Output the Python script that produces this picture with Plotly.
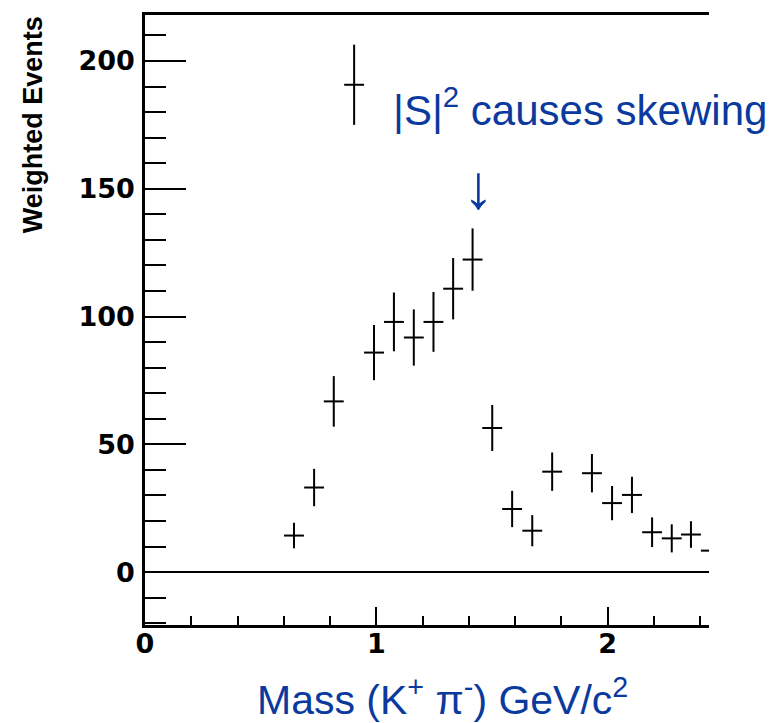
import plotly.graph_objects as go

# Data
mass = [0.644, 0.731, 0.816, 0.904, 0.990, 1.076, 1.162, 1.247, 1.332, 1.416,
        1.501, 1.587, 1.674, 1.760, 1.932, 2.019, 2.105, 2.192, 2.277, 2.360, 2.446]
events = [14.3, 33.1, 66.8, 190.7, 85.9, 97.9, 91.8, 97.9, 110.9, 122.3,
          56.4, 24.7, 16.2, 39.3, 38.7, 27.0, 30.2, 15.6, 13.2, 14.7, 8.4]
errors = [5.0, 7.3, 9.9, 15.7, 10.8, 11.5, 11.0, 11.7, 12.0, 12.2,
          9.0, 7.1, 6.1, 7.5, 7.5, 6.7, 7.1, 5.8, 5.5, 5.2, 4.0]
half_bin = 0.043

y_tickvals = [0, 50, 100, 150, 200]
x_tickvals = [0, 1, 2]

BLUE = "#0b3a9e"

fig = go.Figure()
fig.add_trace(go.Scatter(
    x=mass, y=events, mode="markers",
    marker=dict(size=1, color="black"),
    error_y=dict(type="data", array=errors, visible=True, thickness=2, width=0, color="black"),
    error_x=dict(type="constant", value=half_bin, visible=True, thickness=2, width=0, color="black"),
    showlegend=False, hoverinfo="skip",
))

tickfont = dict(family="DejaVu Sans", size=27, color="black", weight="bold")

fig.update_layout(
    width=780, height=723,
    margin=dict(l=145, r=71, t=12, b=98),
    paper_bgcolor="white", plot_bgcolor="white",
    xaxis=dict(
        range=[0, 2.438], showgrid=False, zeroline=False,
        showline=True, linecolor="black", linewidth=2.5, mirror=True,
        ticks="inside", ticklen=18, tickwidth=2, tickcolor="black",
        tickvals=x_tickvals, ticktext=[str(v) for v in x_tickvals],
        tickfont=tickfont, ticklabelstandoff=-7,
        minor=dict(dtick=0.2, ticks="inside", ticklen=9, tickwidth=2, tickcolor="black", showgrid=False),
    ),
    yaxis=dict(
        range=[-20.7, 218], showgrid=False,
        zeroline=True, zerolinecolor="black", zerolinewidth=1.5,
        showline=True, linecolor="black", linewidth=2.5,
        ticks="inside", ticklen=41, tickwidth=2, tickcolor="black",
        tickvals=y_tickvals, ticktext=[str(v) for v in y_tickvals],
        tickfont=tickfont, ticklabelstandoff=2,
        minor=dict(dtick=10, ticks="inside", ticklen=21, tickwidth=2, tickcolor="black", showgrid=False),
    ),
    annotations=[
        dict(text="Weighted Events", textangle=-90, xref="paper", yref="paper",
             x=-0.197, y=0.8206, xanchor="center", yanchor="middle", showarrow=False,
             font=dict(family="Liberation Sans", size=27, color="black", weight="bold")),
        dict(text="Mass (K<sup>+</sup> π<sup>-</sup>) GeV/c<sup>2</sup>", xref="paper", yref="paper",
             x=0.527, y=-0.118, xanchor="center", yanchor="middle", showarrow=False,
             font=dict(family="Liberation Sans", size=41, color=BLUE)),
        dict(text="|S|<sup>2</sup> causes skewing", xref="x", yref="y",
             x=1.062, y=182, xanchor="left", yanchor="middle", showarrow=False,
             font=dict(family="Liberation Sans", size=42, color=BLUE)),
        dict(text="↓", xref="x", yref="y",
             x=1.440, y=150.9, xanchor="center", yanchor="middle", showarrow=False,
             font=dict(family="Liberation Sans", size=62, color=BLUE)),
    ],
)

fig.write_html("out.html")
